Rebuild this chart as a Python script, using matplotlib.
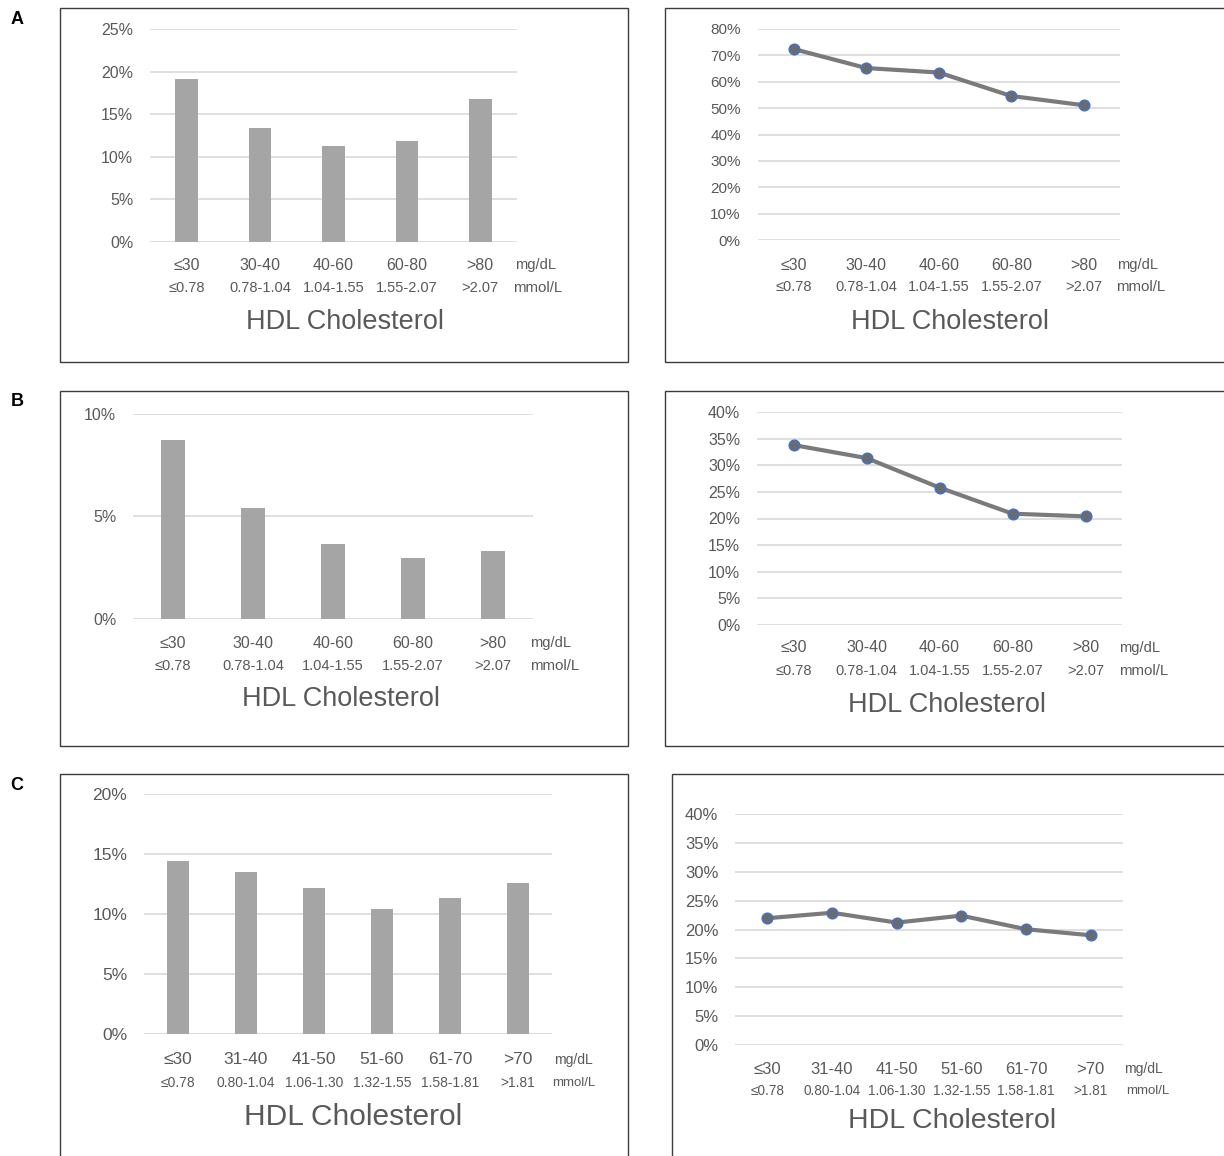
import numpy as np
import matplotlib.pyplot as plt
from matplotlib.patches import Rectangle
from matplotlib.transforms import offset_copy

plt.rcParams['font.family'] = ['Liberation Sans', 'DejaVu Sans']

# HDL categories
mg_ab = ['≤30', '30-40', '40-60', '60-80', '>80']
mmol_ab = ['≤0.78', '0.78-1.04', '1.04-1.55', '1.55-2.07', '>2.07']
mg_c = ['≤30', '31-40', '41-50', '51-60', '61-70', '>70']
mmol_c = ['≤0.78', '0.80-1.04', '1.06-1.30', '1.32-1.55', '1.58-1.81', '>1.81']

# percentages per panel
a_bar = [19.1, 13.4, 11.25, 11.8, 16.8]
a_line = [72.4, 65.2, 63.5, 54.6, 51.1]
b_bar = [8.70, 5.42, 3.67, 2.95, 3.30]
b_line = [33.8, 31.35, 25.8, 20.9, 20.4]
c_bar = [14.4, 13.5, 12.2, 10.4, 11.3, 12.6]
c_line = [21.95, 22.9, 21.2, 22.4, 20.05, 19.0]

W, H = 1224, 1156
fig = plt.figure(figsize=(W / 100, H / 100), dpi=100)

TXT = '#595959'
GRID = '#d9d9d9'
BAR = '#a5a5a5'


def px_rect(x0, x1, y0, y1):
    return [x0 / W, 1 - y1 / H, (x1 - x0) / W, (y1 - y0) / H]


def frame(x0, x1, y0, y1):
    fig.add_artist(Rectangle((x0 / W, 1 - y1 / H), (x1 - x0) / W, (y1 - y0) / H,
                             transform=fig.transFigure, fill=False,
                             ec='#3c3c3c', lw=1.0))


def panel(rect, kind, vals, mg, mmol, ymax, ystep, row1, row2, unit_dx,
          title_dx, title_dy, fs1=11.5, fs2=10.5, fsu1=10.5, fsu2=10.8,
          fsy=11.5, fst=19.5):
    ax = fig.add_axes(px_rect(*rect))
    n = len(vals)
    x = np.arange(n)
    if kind == 'bar':
        ax.bar(x, vals, width=0.31, color=BAR, zorder=2)
    else:
        ax.plot(x, vals, color='#7a7a7a', lw=3.0, zorder=2,
                solid_capstyle='round', marker='o', ms=7.5,
                mfc='#6b6b6b', mec='#4472c4', mew=1.2)
    ax.set_xlim(-0.5, n - 0.5)
    ax.set_ylim(0, ymax)
    ticks = np.arange(0, ymax + 0.01, ystep)
    ax.set_yticks(ticks)
    ax.set_yticklabels([f'{v:.0f}%' for v in ticks])
    ax.set_xticks([])
    ax.tick_params(axis='y', length=0, pad=12, labelsize=fsy, labelcolor=TXT)
    ax.yaxis.grid(True, color=GRID, lw=1.2)
    ax.set_axisbelow(True)
    for s in ax.spines.values():
        s.set_visible(False)
    ax.patch.set_alpha(0)

    # two rows of category labels: mg/dL above, mmol/L below
    xt = ax.get_xaxis_transform()
    t1 = offset_copy(xt, fig=fig, y=-row1, units='dots')
    t2 = offset_copy(xt, fig=fig, y=-row2, units='dots')
    for i in range(n):
        ax.text(i, 0, mg[i], transform=t1, ha='center', va='center',
                fontsize=fs1, color=TXT)
        ax.text(i, 0, mmol[i], transform=t2, ha='center', va='center',
                fontsize=fs2, color=TXT)
    u1 = offset_copy(ax.transAxes, fig=fig, x=unit_dx[0], y=-row1, units='dots')
    u2 = offset_copy(ax.transAxes, fig=fig, x=unit_dx[1], y=-row2, units='dots')
    ax.text(1, 0, 'mg/dL', transform=u1, ha='left', va='center',
            fontsize=fsu1, color=TXT)
    ax.text(1, 0, 'mmol/L', transform=u2, ha='left', va='center',
            fontsize=fsu2, color=TXT)
    tt = offset_copy(ax.transAxes, fig=fig, x=title_dx, y=-title_dy, units='dots')
    ax.text(0.5, 0, 'HDL Cholesterol', transform=tt, ha='center', va='center',
            fontsize=fst, color=TXT)
    return ax


# outer frames
frame(60, 628, 8, 362)
frame(665, 1240, 8, 362)
frame(60, 628, 391, 746)
frame(665, 1240, 391, 746)
frame(60, 628, 774, 1170)
frame(672, 1240, 774, 1170)

# row A
panel((150, 517, 29, 242), 'bar', a_bar, mg_ab, mmol_ab, 25, 5,
      23, 46, (-2, -4), 12, 80)
panel((757.5, 1120, 29, 240), 'line', a_line, mg_ab, mmol_ab, 80, 10,
      25, 47, (-3, -4), 11, 82, fsy=11)

# row B
panel((133, 533, 413.7, 619), 'bar', b_bar, mg_ab, mmol_ab, 10, 5,
      24, 47, (-3, -3), 8, 80, fsy=11.5)
panel((757, 1122, 412, 625), 'line', b_line, mg_ab, mmol_ab, 40, 5,
      23, 46, (-3, -3), 8, 80, fsy=11.5)

# row C
panel((144, 552, 794, 1034), 'bar', c_bar, mg_c, mmol_c, 20, 5,
      26, 49, (2, 0), 5, 83, fs1=12.5, fs2=10, fsu1=10, fsu2=9.5,
      fsy=12.5, fst=21.5)
panel((735, 1123, 814, 1045), 'line', c_line, mg_c, mmol_c, 40, 5,
      24, 46, (1, 3), 23, 76, fs1=12, fs2=9.8, fsu1=10, fsu2=9.5,
      fsy=12, fst=20.5)

for lab, y in (('A', 19), ('B', 402), ('C', 785)):
    fig.text(17 / W, 1 - y / H, lab, ha='center', va='center',
             fontsize=13, fontweight='bold', color='black')

fig.savefig('out.png', dpi=100)
